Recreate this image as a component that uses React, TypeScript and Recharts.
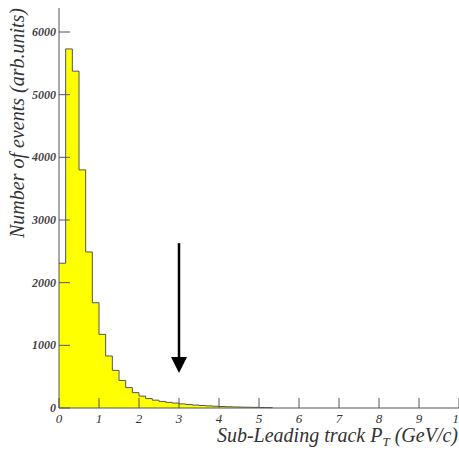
import { AreaChart, Area, XAxis, YAxis, ReferenceLine } from "recharts";

// bin width of the histogram (GeV/c)
const BIN_WIDTH = 1 / 6;

// counts per bin, starting at pT = 0
const counts = [
  2310, 5730, 5375, 3800, 2490, 1680, 1175, 830, 600, 440,
  325, 245, 190, 150, 125, 105, 90, 78, 65, 55,
  47, 40, 34, 28, 24, 20, 17, 14, 12, 10,
  8, 6,
];

const xTicks = [0, 1, 2, 3, 4, 5, 6, 7, 8, 9, 10];
const yTicks = [0, 1000, 2000, 3000, 4000, 5000, 6000];

// cut position marked by the arrow
const cutX = 3;
const arrowTop = 2630;
const arrowTip = 560;

const data = [
  ...counts.map((c, i) => ({ pt: i * BIN_WIDTH, n: c })),
  { pt: counts.length * BIN_WIDTH, n: 0 },
];

const FONT = "Liberation Serif, DejaVu Serif, serif";
const AXIS = "#555555";

function XTick(props: any) {
  const { x, y, payload } = props;
  return (
    <g>
      <line x1={x} x2={x} y1={y} y2={y - 10} stroke={AXIS} />
      <text
        x={x}
        y={y + 15}
        textAnchor="middle"
        style={{ fontFamily: FONT, fontStyle: "italic", fontSize: 13 }}
        fill="#333"
      >
        {payload.value}
      </text>
    </g>
  );
}

function YTick(props: any) {
  const { x, y, payload } = props;
  return (
    <g>
      <line x1={x} x2={x + 11} y1={y} y2={y} stroke={AXIS} />
      <text
        x={x - 3}
        y={y + 4}
        textAnchor="end"
        style={{ fontFamily: FONT, fontStyle: "italic", fontWeight: "bold", fontSize: 12 }}
        fill="#444"
      >
        {payload.value}
      </text>
    </g>
  );
}

function Arrow(props: any) {
  const { x1, y1, y2 } = props;
  const head = 16;
  return (
    <g>
      <line x1={x1} x2={x1} y1={y1} y2={y2 - head + 1} stroke="#000" strokeWidth={2.5} />
      <polygon
        points={`${x1 - 8},${y2 - head} ${x1 + 8},${y2 - head} ${x1},${y2}`}
        fill="#000"
      />
    </g>
  );
}

export default function App() {
  return (
    <div style={{ position: "absolute", left: 0, top: 0, width: 459, height: 451 }}>
      <AreaChart
        width={459}
        height={451}
        data={data}
        margin={{ top: 8, right: 0, bottom: 0, left: 0 }}
      >
        <XAxis
          dataKey="pt"
          type="number"
          domain={[0, 10]}
          ticks={xTicks}
          interval={0}
          height={43}
          tickSize={0}
          tickMargin={0}
          tickLine={false}
          axisLine={{ stroke: AXIS }}
          tick={<XTick />}
        />
        <XAxis
          xAxisId="top"
          orientation="top"
          type="number"
          domain={[0, 10]}
          height={0}
          tick={false}
          tickLine={false}
          axisLine={{ stroke: "#888", strokeWidth: 1.5 }}
        />
        <YAxis
          type="number"
          domain={[0, 6383]}
          ticks={yTicks}
          interval={0}
          width={59}
          tickSize={0}
          tickMargin={0}
          tickLine={false}
          axisLine={{ stroke: AXIS }}
          tick={<YTick />}
        />
        <Area
          type="stepAfter"
          dataKey="n"
          stroke="#555"
          strokeWidth={1}
          fill="#ffff00"
          fillOpacity={1}
          isAnimationActive={false}
          dot={false}
          activeDot={false}
        />
        <ReferenceLine
          segment={[
            { x: cutX, y: arrowTop },
            { x: cutX, y: arrowTip },
          ]}
          shape={<Arrow />}
        />
      </AreaChart>
      <svg
        width={459}
        height={451}
        style={{ position: "absolute", left: 0, top: 0, pointerEvents: "none" }}
      >
        <text
          transform="translate(24,123) rotate(-90)"
          textAnchor="middle"
          style={{ fontFamily: FONT, fontStyle: "italic", fontSize: 20 }}
          fill="#333"
        >
          Number of events (arb.units)
        </text>
        <text
          x={458}
          y={442}
          textAnchor="end"
          style={{ fontFamily: FONT, fontStyle: "italic", fontSize: 20 }}
          fill="#333"
        >
          Sub-Leading track P
          <tspan style={{ fontSize: 13 }} dy={4}>T</tspan>
          <tspan dy={-4}> (GeV/c)</tspan>
        </text>
      </svg>
    </div>
  );
}
